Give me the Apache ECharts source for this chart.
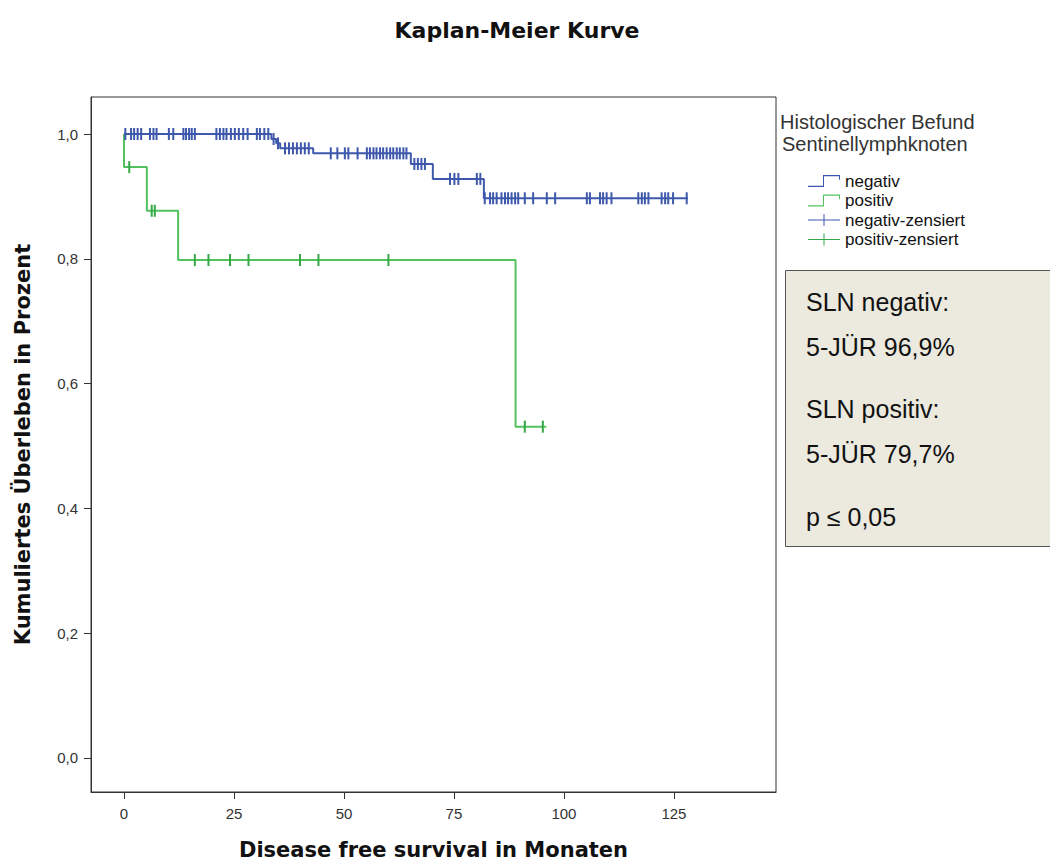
<!DOCTYPE html>
<html>
<head>
<meta charset="utf-8">
<script src="https://cdn.jsdelivr.net/npm/echarts@6/dist/echarts.min.js"></script>
<style>html,body{margin:0;padding:0;background:#fff}#chart{width:1050px;height:866px}</style>
</head>
<body>
<div id="chart"></div>
<script>
// ---- data ----
const xTicks = [0, 25, 50, 75, 100, 125];
const yTicks = [0, 0.2, 0.4, 0.6, 0.8, 1.0];

// Kaplan-Meier step points: SLN negativ
const negTimes  = [0, 33.5, 34.6, 35.5, 43.0, 65.2, 70.2, 81.8, 128.2];
const negValues = [1.0, 0.992, 0.985, 0.977, 0.969, 0.952, 0.928, 0.897, 0.897];
// censored observations (months), SLN negativ
const negCensored = [
  0.3, 1.6, 2.3, 3.1, 3.9, 5.9, 6.7, 7.4, 10.2, 11.2, 13.5, 14.1, 14.8, 15.4, 16.1,
  21.0, 21.8, 22.6, 23.3, 24.3, 25.2, 26.1, 27.1, 28.1, 30.2, 30.9, 31.9, 32.8,
  34.0, 35.0,
  36.6, 37.5, 38.4, 39.3, 40.2, 41.1, 42.0,
  47.0, 48.5, 50.2, 51.0, 53.1, 55.2, 55.9, 56.7, 57.4, 58.2, 58.9, 59.7, 60.5, 61.2, 62.0, 62.7, 63.5, 64.2,
  66.0, 66.8, 67.6, 68.4,
  74.1, 75.1, 76.0, 80.2, 81.0,
  82.0, 83.2, 83.9, 84.7, 85.8, 86.6, 87.3, 88.1, 88.9, 89.6, 91.1, 93.0, 96.1, 98.0,
  105.2, 105.9, 108.2, 108.9, 109.7, 110.8, 116.9, 117.7, 118.4, 119.2,
  122.2, 123.0, 123.7, 124.8, 127.9
];

// Kaplan-Meier step points: SLN positiv
const posTimes  = [0, 0, 5.2, 12.3, 89.0, 96.0];
const posValues = [1.0, 0.947, 0.877, 0.798, 0.531, 0.531];
const posCensored = [1.2, 6.3, 7.0, 16.1, 19.2, 24.1, 28.3, 40.0, 44.2, 60.1, 91.1, 95.2];

const boxLines = ['SLN negativ:', '5-JÜR 96,9%', 'SLN positiv:', '5-JÜR 79,7%', 'p ≤ 0,05'];

// ---- build ----
function levelAt(times, values, t) {
  let v = values[0];
  for (let i = 0; i < times.length; i++) { if (times[i] <= t) v = values[i]; }
  return v;
}
const negLine = negTimes.map((t, i) => [t, negValues[i]]);
const posLine = posTimes.map((t, i) => [t, posValues[i]]);
const negCens = negCensored.map(t => [t, levelAt(negTimes, negValues, t)]);
const posCens = posCensored.map(t => [t, levelAt(posTimes, posValues, t)]);

const BLUE = '#3e58ac', GREEN = '#52c25e', GREEN_D = '#33a843';
const stepIcon = 'path://M0,9H15V0H32V4H31V1H16V10H0Z';
const plusIcon = 'path://M0,5.5H32V6.5H0ZM15.5,0H16.5V12H15.5Z';
const tickBar = 'path://M0,0H2V12H0Z';

const chart = echarts.init(document.getElementById('chart'), null, {renderer: 'svg'});
const boxTop = 270, boxYs = [302, 347, 409, 454, 517];
chart.setOption({
  animation: false,
  backgroundColor: '#fff',
  title: {
    text: 'Kaplan-Meier Kurve', left: 512, top: 14, textAlign: 'center',
    textStyle: {fontFamily: 'DejaVu Sans', fontWeight: 'bold', fontSize: 22, color: '#111'}
  },
  grid: {left: 91, top: 97, width: 685, height: 695, show: true, borderColor: '#333', borderWidth: 1,
    backgroundColor: '#fff', containLabel: false, outerBoundsMode: 'none'},
  xAxis: {
    type: 'value', min: -7.5, max: 148.2,
    name: 'Disease free survival in Monaten', nameLocation: 'middle', nameGap: 47,
    nameTextStyle: {fontFamily: 'DejaVu Sans', fontWeight: 'bold', fontSize: 21, color: '#111'},
    axisLine: {show: true, onZero: false, lineStyle: {color: '#333'}},
    axisTick: {show: true, inside: false, length: 7, lineStyle: {color: '#333'}, customValues: xTicks},
    axisLabel: {customValues: xTicks, margin: 14, fontFamily: 'Liberation Sans', fontSize: 15, color: '#333'},
    splitLine: {show: false}
  },
  yAxis: {
    type: 'value', min: -0.0545, max: 1.0593,
    name: 'Kumuliertes Überleben in Prozent', nameLocation: 'middle', nameGap: 58,
    nameTextStyle: {fontFamily: 'DejaVu Sans', fontWeight: 'bold', fontSize: 21, color: '#111'},
    axisLine: {show: true, onZero: false, lineStyle: {color: '#333'}},
    axisTick: {show: true, inside: false, length: 7, lineStyle: {color: '#333'}, customValues: yTicks},
    axisLabel: {customValues: yTicks, margin: 13, fontFamily: 'Liberation Sans', fontSize: 15, color: '#333',
      formatter: v => v.toFixed(1).replace('.', ',')},
    splitLine: {show: false}
  },
  legend: {
    orient: 'vertical', left: 803, top: 167, itemWidth: 32, itemHeight: 12, itemGap: 1.5,
    symbolKeepAspect: false, selectedMode: false,
    textStyle: {fontFamily: 'Liberation Sans', fontSize: 17, color: '#111', lineHeight: 18},
    itemStyle: {borderWidth: 0},
    data: [
      {name: 'negativ', icon: stepIcon},
      {name: 'positiv', icon: stepIcon},
      {name: 'negativ-zensiert', icon: plusIcon},
      {name: 'positiv-zensiert', icon: plusIcon}
    ]
  },
  graphic: [
    {type: 'text', left: 780, top: 112, style: {text: 'Histologischer Befund', font: '20px "Liberation Sans"', fill: '#333'}},
    {type: 'text', left: 782, top: 134, style: {text: 'Sentinellymphknoten', font: '20px "Liberation Sans"', fill: '#333'}},
    {type: 'rect', shape: {x: 785.5, y: boxTop + 0.5, width: 280, height: 276}, style: {fill: '#ece9df', stroke: '#555', lineWidth: 1}},
  ].concat(boxLines.map((s, i) => ({
    type: 'text', x: 806, y: boxYs[i],
    style: {text: s, font: '25px "Liberation Sans"', fill: '#111', textVerticalAlign: 'middle'}
  }))),
  series: [
    {name: 'negativ', type: 'line', step: 'end', data: negLine, showSymbol: false, symbol: 'none',
     lineStyle: {color: BLUE, width: 2}, itemStyle: {color: BLUE}, z: 3},
    {name: 'positiv', type: 'line', step: 'end', data: posLine, showSymbol: false, symbol: 'none',
     lineStyle: {color: GREEN, width: 2}, itemStyle: {color: GREEN}, z: 2},
    {name: 'negativ-zensiert', type: 'scatter', data: negCens, symbol: tickBar, symbolSize: [2, 12],
     itemStyle: {color: BLUE, opacity: 1}, z: 4},
    {name: 'positiv-zensiert', type: 'scatter', data: posCens, symbol: tickBar, symbolSize: [2, 12],
     itemStyle: {color: GREEN_D, opacity: 1}, z: 4}
  ]
});
</script>
</body>
</html>
